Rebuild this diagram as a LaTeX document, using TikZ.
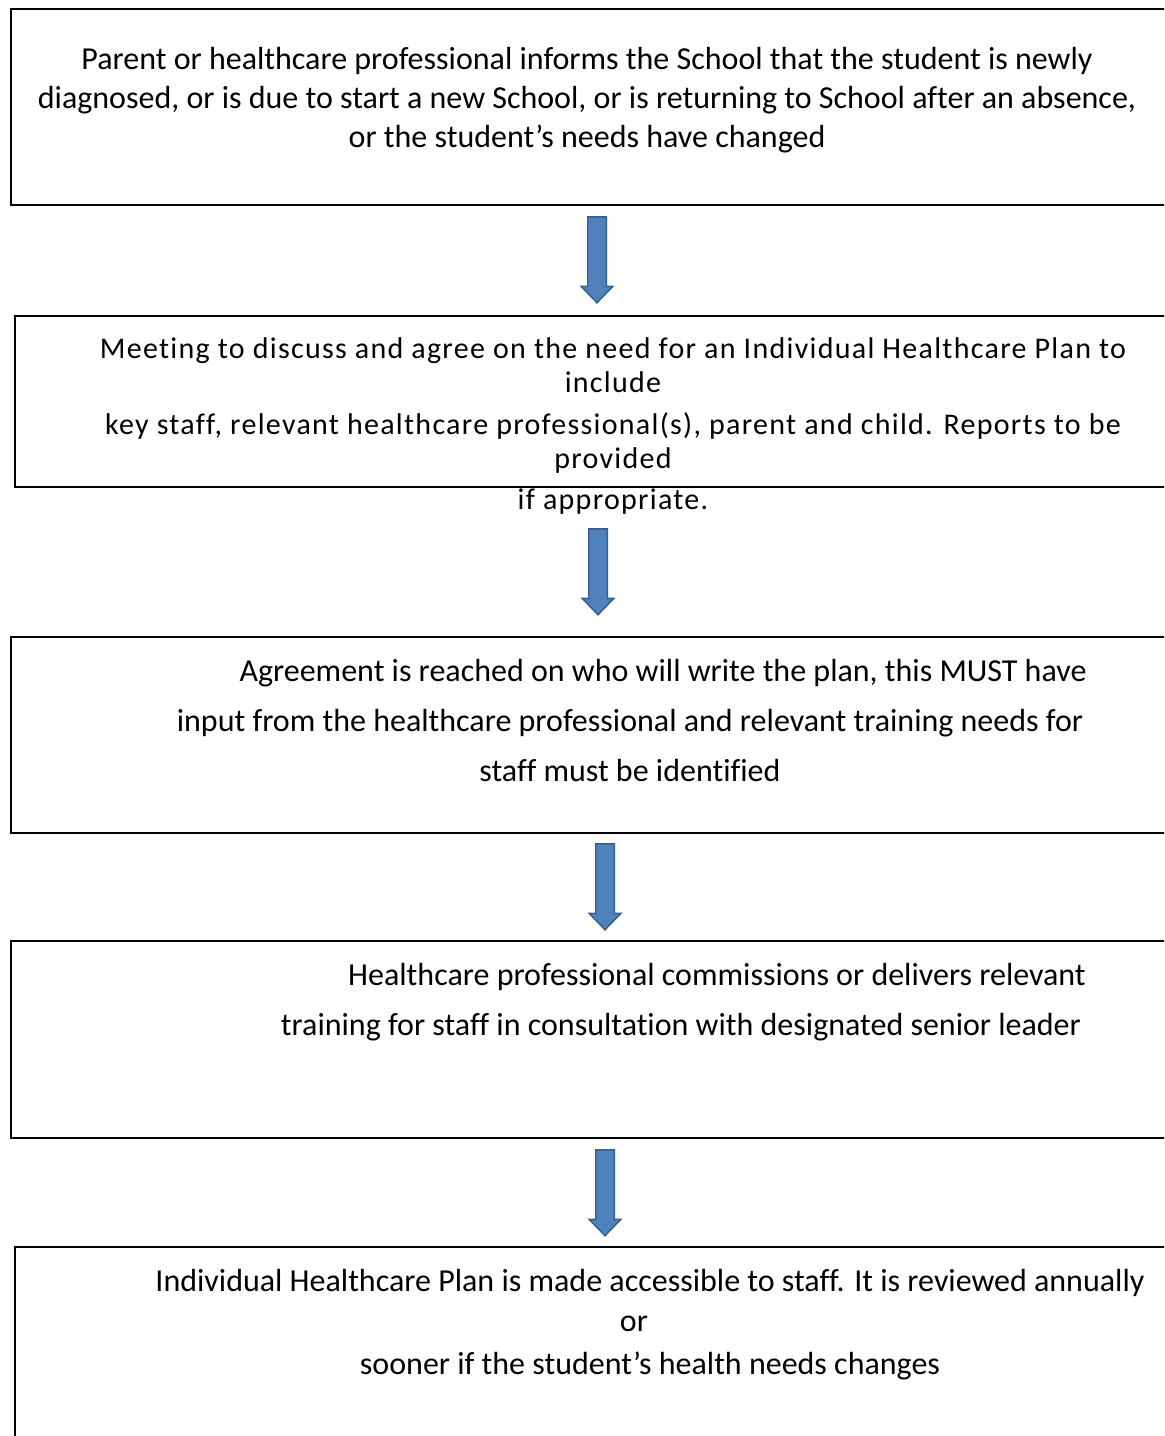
\documentclass[tikz,border=0pt]{standalone}
\usepackage{fontspec}
\setmainfont{Carlito}[Ligatures=NoCommon]
\newfontfamily\spacedfont{Carlito}[Ligatures=NoCommon, LetterSpace=4.3]
\usetikzlibrary{shapes.arrows}
\definecolor{arrblue}{RGB}{79,129,189}
\definecolor{arredge}{RGB}{56,93,138}
\begin{document}
\begin{tikzpicture}[x=0.5pt, y=-0.5pt,
  stepbox/.style={draw=black, line width=1pt, anchor=north west,
    inner sep=0pt, minimum width=585pt},
  steptext/.style={align=center, inner sep=0pt,
    font=\fontsize{16}{19.5}\selectfont},
  downarr/.style={single arrow, draw=arredge, fill=arrblue, line width=0.7pt,
    rotate=-90, inner sep=4.3pt, single arrow head extend=3.3pt,
    single arrow tip angle=88, minimum height=43pt}]
\clip (0,0) rectangle (1164,1436);
\useasboundingbox (0,0) rectangle (1164,1436);
% Step 1
\node[stepbox, minimum height=98pt] (b1) at (10,8) {};
\node[steptext] (t1) at (587,100)
  {Parent or healthcare professional informs the School that the student is newly\\
   diagnosed, or is due to start a new School, or is returning to School after an absence,\\
   or the student’s needs have changed};
\node[downarr] (a1) at (597,255) {};
% Step 2
\node[stepbox, minimum height=85.5pt] (b2) at (14,315) {};
\node[steptext, font=\spacedfont\fontsize{15}{17}\selectfont] (t2) at (613,426)
  {Meeting to discuss and agree on the need for an Individual Healthcare Plan to\\
   include\\[4pt]
   key staff, relevant healthcare professional(s), parent and child. Reports to be\\
   provided\\[3.5pt]
   if appropriate.};
\node[downarr] (a2) at (598,567) {};
% Step 3
\node[stepbox, minimum height=98pt] (b3) at (10,636) {};
\node[steptext, font=\fontsize{16}{25}\selectfont] (t3) at (630,720)
  {\hspace*{33pt}Agreement is reached on who will write the plan, this MUST have\\
   input from the healthcare professional and relevant training needs for\\
   staff must be identified};
\node[downarr] (a3) at (605,882) {};
% Step 4
\node[stepbox, minimum height=98.5pt] (b4) at (10,940) {};
\node[steptext, font=\fontsize{16}{25}\selectfont] (t4) at (681,1002)
  {\hspace*{36pt}Healthcare professional commissions or delivers relevant\\
   training for staff in consultation with designated senior leader};
\node[downarr] (a4) at (605,1188) {};
% Step 5
\node[stepbox, minimum height=110pt] (b5) at (14,1246) {};
\node[steptext, font=\fontsize{16}{20}\selectfont] (t5) at (650,1325)
  {Individual Healthcare Plan is made accessible to staff. It is reviewed annually\\
   or\hspace*{16pt}\null\\[1.5pt]
   sooner if the student’s health needs changes};
\end{tikzpicture}
\end{document}
